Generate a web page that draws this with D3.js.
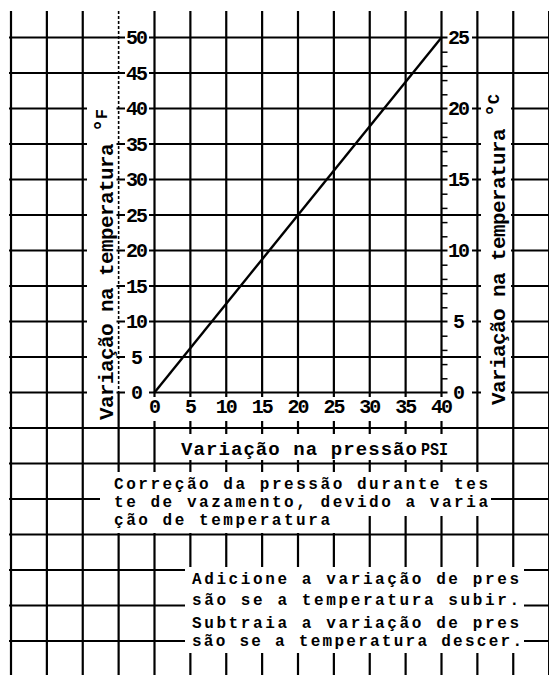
<!DOCTYPE html>
<html>
<head>
<meta charset="utf-8">
<script src="https://cdn.jsdelivr.net/npm/d3@7"></script>
<style>
  html, body { margin: 0; padding: 0; background: #fff; overflow: hidden; }
  svg { display: block; }
</style>
</head>
<body>
<svg id="chart" width="549" height="675"></svg>
<script>
// Pressure change (psi) along the bottom scale
const psiTicks = [0, 5, 10, 15, 20, 25, 30, 35, 40];
// Temperature change: °F on the left scale, °C on the right scale
const fTicks = [0, 5, 10, 15, 20, 25, 30, 35, 40, 45, 50];
const cTicks = [0, 5, 10, 15, 20, 25];
const cMinorTicks = [1, 2, 3, 4, 6, 7, 8, 9, 11, 12, 13, 14, 16, 17, 18, 19, 21, 22, 23, 24];
// Correction line: pressure change vs temperature change (°F)
const linePsi = [0, 40];
const lineF = [0, 50];
// Ruled grid of the sheet (in scale units)
const gridPsi = [-20, -15, -10, -5, 0, 5, 10, 15, 20, 25, 30, 35, 40, 45, 50, 55];
const gridF = [-35, -30, -25, -20, -15, -10, -5, 0, 5, 10, 15, 20, 25, 30, 35, 40, 45, 50];
// Texts
const leftTitle = "Variação na temperatura ";
const rightTitle = "Variação na temperatura ";
const xTitle = "Variação na pressão ";
const xUnit = "PSI";
const noteLines = [
  "Correção da pressão durante tes",
  "te de vazamento, devido a varia",
  "ção de temperatura"
];
const ruleLines = [
  "Adicione a variação de pres",
  "são se a temperatura subir.",
  "Subtraia a variação de pres",
  "são se a temperatura descer."
];

const W = 549, H = 675;
const FONT = "'Liberation Mono','Courier New','DejaVu Sans Mono',monospace";
const svg = d3.select("#chart");

const x = d3.scaleLinear().domain([0, 40]).range([154.5, 441.5]);
const yF = d3.scaleLinear().domain([0, 50]).range([392.5, 37.5]);
const yC = d3.scaleLinear().domain([0, 25]).range([392.5, 37.5]);

// ---- grid ----
const grid = svg.append("g").attr("stroke", "#000").attr("fill", "none");
grid.selectAll("line.h").data(gridF).join("line").attr("class", "h")
  .attr("x1", 9).attr("x2", W)
  .attr("y1", d => yF(d)).attr("y2", d => yF(d))
  .attr("stroke-width", 2);
grid.selectAll("line.v").data(gridPsi.filter(d => d !== -5)).join("line").attr("class", "v")
  .attr("x1", d => x(d)).attr("x2", d => x(d))
  .attr("y1", 11).attr("y2", H)
  .attr("stroke-width", 2.2);
// the column rule just left of the °F scale is broken above the zero line
grid.append("line")
  .attr("x1", x(-5)).attr("x2", x(-5)).attr("y1", 11).attr("y2", yF(0))
  .attr("stroke-width", 1.6).attr("stroke-dasharray", "3,2");
grid.append("line")
  .attr("x1", x(-5)).attr("x2", x(-5)).attr("y1", yF(0)).attr("y2", H)
  .attr("stroke-width", 2.2);

// ---- white bands that carry the texts ----
const bands = [
  [87, 96, 116.5, 423],    // left title
  [481, 88, 511, 408],     // right title
  [146, 397, 452, 421],    // x tick labels
  [157, 434, 452, 460],    // x title
  [100, 472, 491, 516],    // note, first two lines
  [100, 516, 336, 533],    // note, last line
  [185, 567, 524, 653]     // add / subtract rule
];
svg.append("g").selectAll("rect").data(bands).join("rect")
  .attr("x", d => d[0]).attr("y", d => d[1])
  .attr("width", d => d[2] - d[0]).attr("height", d => d[3] - d[1])
  .attr("fill", "#fff");

// ---- correction line ----
svg.append("path")
  .datum(linePsi.map((p, i) => [p, lineF[i]]))
  .attr("d", d3.line().x(d => x(d[0])).y(d => yF(d[1])))
  .attr("fill", "none").attr("stroke", "#000").attr("stroke-width", 2.4);

function styleAxisText(g) {
  g.attr("font-family", FONT).attr("font-size", 20);
  g.selectAll("text")
    .attr("font-weight", "bold")
    .attr("letter-spacing", -2)
    .attr("fill", "#000");
}

// ---- left scale (°F) ----
const axL = svg.append("g").attr("transform", `translate(${x(0)},0)`)
  .call(d3.axisLeft(yF).tickValues(fTicks).tickSize(0).tickPadding(17.5));
axL.select(".domain").remove();
axL.selectAll(".tick").insert("rect", "text")
  .attr("x", -29.5).attr("width", 24).attr("y", -8).attr("height", 16).attr("fill", "#fff");
styleAxisText(axL);
axL.selectAll("text").attr("text-anchor", "middle").attr("dx", -1);

// ---- right scale (°C) ----
const axRm = svg.append("g").attr("transform", `translate(${x(40)},0)`)
  .call(d3.axisRight(yC).tickValues(cMinorTicks).tickSize(6).tickFormat(""));
axRm.select(".domain").remove();
axRm.selectAll("line").attr("stroke", "#000").attr("stroke-width", 1.5);

const axR = svg.append("g").attr("transform", `translate(${x(40)},0)`)
  .call(d3.axisRight(yC).tickValues(cTicks).tickSize(0).tickPadding(17.5));
axR.select(".domain").remove();
axR.selectAll(".tick").insert("rect", "text")
  .attr("x", 6).attr("width", 24.5).attr("y", -8).attr("height", 16).attr("fill", "#fff");
styleAxisText(axR);
axR.selectAll("text").attr("text-anchor", "middle").attr("dx", -1);

// ---- bottom scale (psi) ----
const axB = svg.append("g").attr("transform", `translate(0,${yF(0)})`)
  .call(d3.axisBottom(x).tickValues(psiTicks).tickSize(0).tickPadding(6));
axB.select(".domain").remove();
styleAxisText(axB);
axB.selectAll("text").attr("text-anchor", "middle").attr("dx", -1);

// ---- titles ----
function verticalTitle(tx, ty, label, unit) {
  const t = svg.append("text")
    .attr("transform", `translate(${tx},${ty}) rotate(-90)`)
    .attr("font-family", FONT).attr("font-weight", "bold")
    .attr("font-size", 21).attr("letter-spacing", -0.6)
    .attr("fill", "#000");
  t.append("tspan").text(label);
  t.append("tspan").attr("font-size", 22).attr("dy", -3).text("°");
  t.append("tspan").attr("font-size", 17).attr("dy", -3).text(unit);
}
verticalTitle(113, 420, leftTitle, "F");
verticalTitle(505, 405, rightTitle, "C");

// x title: the unit sits close after the words, set condensed
svg.append("text")
  .attr("x", 181).attr("y", 455)
  .attr("font-family", FONT).attr("font-weight", "bold")
  .attr("font-size", 19).attr("fill", "#000")
  .attr("textLength", 236).attr("lengthAdjust", "spacing")
  .text(xTitle.trim());
svg.append("text")
  .attr("x", 421).attr("y", 455)
  .attr("font-family", FONT).attr("font-weight", "bold")
  .attr("font-size", 19).attr("fill", "#000")
  .attr("textLength", 27).attr("lengthAdjust", "spacingAndGlyphs")
  .text(xUnit);

// ---- notes ----
const noteY = [488.5, 506.5, 524.5];
const noteLen = [374, 374, 216];
svg.append("g").selectAll("text").data(noteLines).join("text")
  .attr("x", 114).attr("y", (d, i) => noteY[i])
  .attr("font-family", FONT).attr("font-weight", "bold").attr("font-size", 16)
  .attr("fill", "#000")
  .attr("textLength", (d, i) => noteLen[i]).attr("lengthAdjust", "spacing")
  .text(d => d);

const ruleY = [584, 605, 628, 646];
const ruleLen = [327, 327, 327, 330];
svg.append("g").selectAll("text").data(ruleLines).join("text")
  .attr("x", 192).attr("y", (d, i) => ruleY[i])
  .attr("font-family", FONT).attr("font-weight", "bold").attr("font-size", 16)
  .attr("fill", "#000")
  .attr("textLength", (d, i) => ruleLen[i]).attr("lengthAdjust", "spacing")
  .text(d => d);
</script>
</body>
</html>
